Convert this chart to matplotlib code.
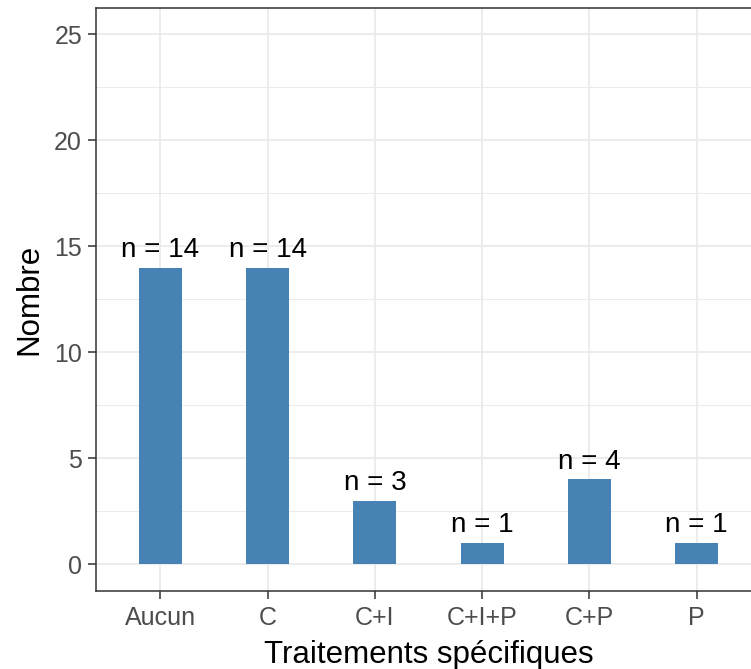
import matplotlib
matplotlib.use('Agg')
from matplotlib import pyplot as plt
import numpy as np

# data
categories = ['Aucun', 'C', 'C+I', 'C+I+P', 'C+P', 'P']
counts = [14, 14, 3, 1, 4, 1]
yticks = [0, 5, 10, 15, 20, 25]

plt.rcParams['font.family'] = ['Liberation Sans', 'DejaVu Sans']

fig = plt.figure(figsize=(7.51, 6.69), dpi=100)
W, H = 751, 669
left, right, top, bottom = 96, 761, 8, 590.7
ax = fig.add_axes([left / W, (H - bottom) / H, (right - left) / W, (bottom - top) / H])

x = np.arange(len(categories))
ax.bar(x, counts, width=0.4, color='#4682B4', zorder=3)
for xi, c in zip(x, counts):
    ax.annotate(f'n = {c}', (xi, c), xytext=(0, 3.5), textcoords='offset points',
                ha='center', va='bottom', fontsize=20, color='black', zorder=4)

ax.set_xlim(-0.6, len(categories) - 1 + 0.6)
ax.set_ylim(-1.25, 26.25)
ax.set_xticks(x)
ax.set_xticklabels(categories)
ax.set_yticks(yticks)
ax.set_yticks(np.arange(2.5, 26, 5), minor=True)
ax.tick_params(axis='both', which='major', labelsize=18, labelcolor='#4D4D4D',
               color='#333333', length=6, width=1.1)
ax.tick_params(axis='x', which='major', pad=5)
ax.tick_params(axis='y', which='major', pad=4)
ax.tick_params(axis='y', which='minor', length=0)

ax.grid(True, which='major', color='#EBEBEB', linewidth=1.3, zorder=0)
ax.grid(True, which='minor', axis='y', color='#EBEBEB', linewidth=0.7, zorder=0)
ax.set_axisbelow(True)

for s in ax.spines.values():
    s.set_color('#333333')
    s.set_linewidth(1.1)

ax.set_xlabel('Traitements spécifiques', fontsize=22.5, labelpad=7)
ax.set_ylabel('Nombre', fontsize=22.5, labelpad=7)

fig.savefig('out.png', dpi=100)
